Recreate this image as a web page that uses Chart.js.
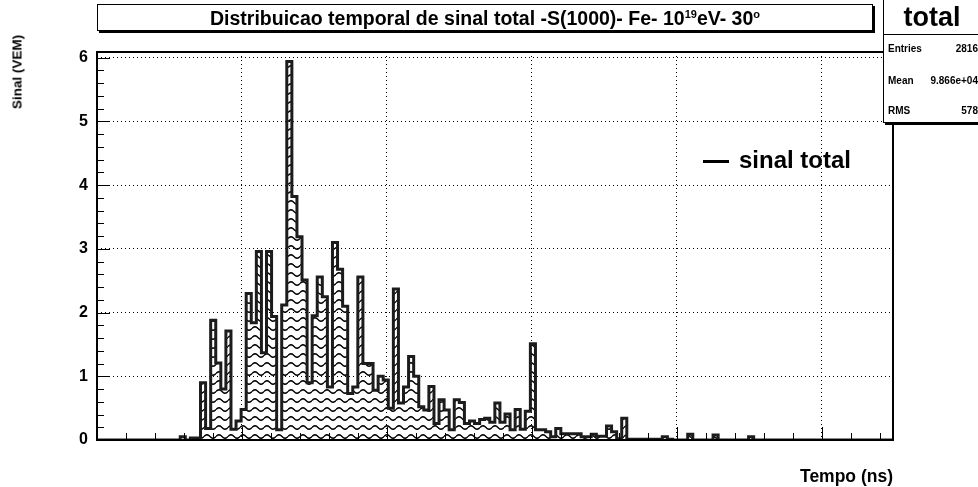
<!DOCTYPE html>
<html>
<head>
<meta charset="utf-8">
<script src="https://cdn.jsdelivr.net/npm/chart.js@4.4.0/dist/chart.umd.min.js"></script>
<style>
    html, body { margin: 0; padding: 0; background: #fff; }
    #wrap { position: relative; width: 978px; height: 487px; overflow: hidden; font-family: "Liberation Sans", Arial, sans-serif; }
    #chart { position: absolute; left: 0; top: 0; }
    .box { position: absolute; background: #fff; border: 1px solid #000; box-shadow: 2px 2px 0 #000; }
    #title { left: 97px; top: 4px; width: 774px; height: 25px; text-align: center; line-height: 26px;
        font-weight: bold; font-size: 19.5px; white-space: nowrap; }
    #title sup { font-size: 11px; vertical-align: 7px; line-height: 0; }
    #stats { left: 883px; top: -1px; width: 110px; height: 122px; }
    #stats .head { height: 34px; border-bottom: 1px solid #000; font-weight: bold; font-size: 27px; line-height: 34px; text-align: center; padding-right: 14px; }
    #stats .row { position: absolute; left: 4px; width: 90px; font-weight: bold; font-size: 10px; }
    #stats .row span { position: absolute; right: 0; }
    #ytitle { position: absolute; left: 17px; top: 72px; transform: translate(-50%, -50%) rotate(-90deg); font-weight: bold; font-size: 13.5px; white-space: nowrap; }
    #legend { position: absolute; left: 703px; top: 145px; font-weight: bold; font-size: 24px; line-height: 30px; white-space: nowrap; }
    #legend i { display: inline-block; width: 26px; height: 3px; background: #000; vertical-align: middle; margin-right: 10px; }
</style>
</head>
<body>
<div id="wrap">
    <canvas id="chart" width="978" height="487"></canvas>
    <div id="title" class="box">Distribuicao temporal de sinal total -S(1000)- Fe- 10<sup>19</sup>eV- 30<sup>o</sup></div>
    <div id="stats" class="box">
        <div class="head">total</div>
        <div class="row" style="top:43px">Entries<span>2816</span></div>
        <div class="row" style="top:75px">Mean<span>9.866e+04</span></div>
        <div class="row" style="top:105px">RMS<span>578</span></div>
    </div>
    <div id="ytitle">Sinal (VEM)</div>
    <div id="legend"><i></i>sinal total</div>
</div>
<script>
    // histogram binning (ns)
    const binStart = 96979;
    const binWidth = 35;
    const xMin = 97000;
    const xMax = 102490;
    const yMax = 6.09;
    const majorTimes = [97000, 98000, 99000, 100000, 101000, 102000];

    // signal per bin (VEM)
    const signal = [
        0,
        0, 0, 0, 0, 0, 0, 0, 0, 0, 0,
        0, 0, 0, 0, 0, 0, 0.05, 0, 0.03, 0.03,
        0.90, 0.18, 1.88, 1.21, 0.80, 1.71, 0.17, 0.30, 0.48, 2.30,
        1.84, 2.96, 1.37, 2.96, 1.94, 0.16, 2.12, 5.94, 3.82, 3.19,
        2.51, 0.90, 1.95, 2.56, 2.25, 0.83, 3.10, 2.68, 2.10, 0.73,
        0.83, 2.56, 1.20, 1.20, 0.78, 1.00, 0.94, 0.50, 2.37, 0.58,
        0.83, 1.31, 1.00, 0.52, 0.47, 0.84, 0.26, 0.63, 0.47, 0.16,
        0.63, 0.59, 0.26, 0.30, 0.26, 0.32, 0.34, 0.28, 0.58, 0.28,
        0.41, 0.16, 0.48, 0.17, 0.45, 1.51, 0.16, 0.16, 0.13, 0.05,
        0.18, 0.10, 0.10, 0.10, 0.10, 0.05, 0.05, 0.09, 0.06, 0.06,
        0.22, 0.13, 0.02, 0.34, 0.01, 0.01, 0.01, 0.01, 0.01, 0.01,
        0.01, 0.05, 0.01, 0, 0, 0, 0.09, 0, 0, 0,
        0, 0.08, 0, 0, 0, 0, 0, 0, 0.05, 0,
        0, 0, 0, 0, 0, 0, 0, 0, 0, 0,
        0, 0, 0, 0, 0, 0, 0, 0, 0, 0,
        0, 0, 0, 0, 0, 0, 0
    ];

    function makeWaves() {
        const c = document.createElement('canvas');
        c.width = 12;
        c.height = 9;
        const g = c.getContext('2d');
        g.strokeStyle = '#000';
        g.lineWidth = 1.4;
        g.beginPath();
        for (let i = 0; i <= 12; i++) {
            const py = 4.5 - 1.7 * Math.sin(i / 12 * 2 * Math.PI);
            if (i === 0) g.moveTo(i, py); else g.lineTo(i, py);
        }
        g.stroke();
        return g.createPattern(c, 'repeat');
    }

    // histogram outline points: left edge of each bin, plus closing edge
    const points = signal.map((v, k) => ({x: binStart + k * binWidth, y: v}));
    points.push({x: binStart + signal.length * binWidth, y: 0});

    // ROOT style frame + inward tick marks
    const rootFrame = {
        id: 'rootFrame',
        afterDraw(chart) {
            const {ctx, chartArea: a, scales: {x, y}} = chart;
            ctx.save();
            ctx.strokeStyle = '#000';
            ctx.lineWidth = 1;
            ctx.beginPath();
            for (let i = 0; i <= yMax * 5; i++) {
                const py = Math.round(y.getPixelForValue(i / 5)) + 0.5;
                const len = i % 5 === 0 ? 13 : 7;
                ctx.moveTo(a.left, py);
                ctx.lineTo(a.left + len, py);
            }
            for (let t = xMin; t <= xMax; t += 200) {
                const px = Math.round(x.getPixelForValue(t)) + 0.5;
                const len = (t - xMin) % 1000 === 0 ? 13 : 7;
                ctx.moveTo(px, a.bottom);
                ctx.lineTo(px, a.bottom - len);
            }
            ctx.stroke();
            ctx.lineWidth = 2;
            ctx.strokeRect(a.left, a.top, a.right - a.left, a.bottom - a.top);
            ctx.restore();
        }
    };

    new Chart(document.getElementById('chart'), {
        type: 'line',
        data: {
            datasets: [{
                label: 'sinal total',
                data: points,
                stepped: 'before',
                borderColor: '#1c1c1c',
                borderWidth: 3,
                borderJoinStyle: 'miter',
                backgroundColor: makeWaves(),
                fill: 'origin',
                pointRadius: 0,
                tension: 0
            }]
        },
        options: {
            responsive: false,
            animation: false,
            events: [],
            layout: {padding: {top: 52, right: 85, bottom: 0, left: 0}},
            plugins: {legend: {display: false}, tooltip: {enabled: false}},
            scales: {
                x: {
                    type: 'linear',
                    min: xMin,
                    max: xMax,
                    afterFit: s => { s.height = 47; },
                    afterBuildTicks: s => { s.ticks = majorTimes.map(v => ({value: v})); },
                    ticks: {display: false},
                    grid: {color: '#000', lineWidth: 1, drawTicks: false},
                    border: {display: false, dash: [1, 3]},
                    title: {
                        display: true, text: 'Tempo (ns)', align: 'end', color: '#000',
                        font: {family: 'Liberation Sans', size: 17.5, weight: 'bold'},
                        padding: {top: 0, bottom: -1}
                    }
                },
                y: {
                    min: 0,
                    max: yMax,
                    afterFit: s => { s.width = 97; },
                    ticks: {
                        stepSize: 1, includeBounds: false, padding: 9, color: '#000',
                        font: {family: 'Liberation Sans', size: 16, weight: 'bold'}
                    },
                    grid: {color: '#000', lineWidth: 1, drawTicks: false},
                    border: {display: false, dash: [1, 3]}
                }
            }
        },
        plugins: [rootFrame]
    });
</script>
</body>
</html>
